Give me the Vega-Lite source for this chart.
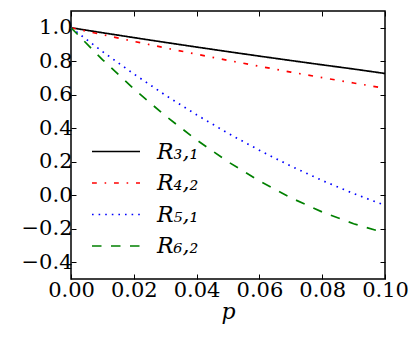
{
  "$schema": "https://vega.github.io/schema/vega-lite/v6.json",
  "width": 314,
  "height": 268,
  "autosize": {"type": "none"},
  "padding": {"left": 71, "top": 11, "right": 35, "bottom": 62},
  "config": {
    "view": {"stroke": "black", "strokeWidth": 1.5},
    "font": "DejaVu Serif",
    "axis": {"grid": false, "domain": false, "tickColor": "black", "tickWidth": 1, "tickSize": -5, "labelOverlap": false, "labelFlush": false, "labelBound": false}
  },
  "data": {"values": [
    {"p": 0, "series": "R₃,₁", "v": 1},
    {"p": 0.01, "series": "R₃,₁", "v": 0.9703},
    {"p": 0.02, "series": "R₃,₁", "v": 0.9412},
    {"p": 0.03, "series": "R₃,₁", "v": 0.9127},
    {"p": 0.04, "series": "R₃,₁", "v": 0.8847},
    {"p": 0.05, "series": "R₃,₁", "v": 0.8574},
    {"p": 0.06, "series": "R₃,₁", "v": 0.8306},
    {"p": 0.07, "series": "R₃,₁", "v": 0.8044},
    {"p": 0.08, "series": "R₃,₁", "v": 0.7787},
    {"p": 0.09, "series": "R₃,₁", "v": 0.7536},
    {"p": 0.1, "series": "R₃,₁", "v": 0.727},
    {"p": 0, "series": "R₄,₂", "v": 1},
    {"p": 0.01, "series": "R₄,₂", "v": 0.9588},
    {"p": 0.02, "series": "R₄,₂", "v": 0.9187},
    {"p": 0.03, "series": "R₄,₂", "v": 0.8798},
    {"p": 0.04, "series": "R₄,₂", "v": 0.842},
    {"p": 0.05, "series": "R₄,₂", "v": 0.8053},
    {"p": 0.06, "series": "R₄,₂", "v": 0.7698},
    {"p": 0.07, "series": "R₄,₂", "v": 0.7354},
    {"p": 0.08, "series": "R₄,₂", "v": 0.7021},
    {"p": 0.09, "series": "R₄,₂", "v": 0.67},
    {"p": 0.1, "series": "R₄,₂", "v": 0.639},
    {"p": 0, "series": "R₅,₁", "v": 1},
    {"p": 0.01, "series": "R₅,₁", "v": 0.8581},
    {"p": 0.02, "series": "R₅,₁", "v": 0.7242},
    {"p": 0.03, "series": "R₅,₁", "v": 0.5982},
    {"p": 0.04, "series": "R₅,₁", "v": 0.4802},
    {"p": 0.05, "series": "R₅,₁", "v": 0.3703},
    {"p": 0.06, "series": "R₅,₁", "v": 0.2682},
    {"p": 0.07, "series": "R₅,₁", "v": 0.1742},
    {"p": 0.08, "series": "R₅,₁", "v": 0.0882},
    {"p": 0.09, "series": "R₅,₁", "v": 0.0101},
    {"p": 0.1, "series": "R₅,₁", "v": -0.06},
    {"p": 0, "series": "R₆,₂", "v": 1},
    {"p": 0.01, "series": "R₆,₂", "v": 0.81},
    {"p": 0.02, "series": "R₆,₂", "v": 0.635},
    {"p": 0.03, "series": "R₆,₂", "v": 0.475},
    {"p": 0.04, "series": "R₆,₂", "v": 0.33},
    {"p": 0.05, "series": "R₆,₂", "v": 0.2},
    {"p": 0.06, "series": "R₆,₂", "v": 0.085},
    {"p": 0.07, "series": "R₆,₂", "v": -0.015},
    {"p": 0.08, "series": "R₆,₂", "v": -0.1},
    {"p": 0.09, "series": "R₆,₂", "v": -0.17},
    {"p": 0.1, "series": "R₆,₂", "v": -0.225}
  ]},
  "layer": [
    {
      "mark": {"type": "line", "strokeWidth": 1.7, "strokeCap": "butt"},
      "encoding": {
        "x": {"field": "p", "type": "quantitative", "scale": {"domain": [0, 0.1], "nice": false, "zero": false},
              "axis": {"values": [0, 0.02, 0.04, 0.06, 0.08, 0.1], "format": ".2f", "labelFont": "DejaVu Serif", "labelFontSize": 21, "labelColor": "black", "labelPadding": 5,
                       "title": "p", "titleFont": "DejaVu Serif", "titleFontStyle": "italic", "titleFontWeight": "normal", "titleFontSize": 22, "titleColor": "black", "titlePadding": 1}},
        "y": {"field": "v", "type": "quantitative", "scale": {"domain": [-0.5, 1.1], "nice": false, "zero": false},
              "axis": {"values": [-0.4, -0.2, 0, 0.2, 0.4, 0.6, 0.8, 1.0], "format": ".1f", "title": null, "labelFont": "DejaVu Serif", "labelFontSize": 21, "labelColor": "black", "labelPadding": 4}},
        "color": {"field": "series", "type": "nominal",
                  "scale": {"domain": ["R₃,₁", "R₄,₂", "R₅,₁", "R₆,₂"], "range": ["#000000", "#ff0000", "#0000ff", "#008000"]},
                  "legend": {"title": null, "orient": "none", "legendX": 20, "legendY": 130, "symbolType": "stroke", "symbolSize": 2304, "symbolStrokeWidth": 1.7, "clipHeight": 21, "rowPadding": 8.5, "labelFont": "DejaVu Serif", "labelFontSize": 22, "labelFontStyle": "italic", "labelOffset": 16, "labelColor": "black", "padding": 0}},
        "strokeDash": {"field": "series", "type": "nominal",
                  "scale": {"domain": ["R₃,₁", "R₄,₂", "R₅,₁", "R₆,₂"], "range": [[1, 0], [4.8, 7.8, 1.6, 7.8], [1.6, 5], [9.5, 9.5]]},
                  "legend": {"title": null, "orient": "none", "legendX": 20, "legendY": 130, "symbolType": "stroke", "symbolSize": 2304, "symbolStrokeWidth": 1.7, "clipHeight": 21, "rowPadding": 8.5, "labelFont": "DejaVu Serif", "labelFontSize": 22, "labelFontStyle": "italic", "labelOffset": 16, "labelColor": "black", "padding": 0}}
      }
    },
    {
      "mark": {"type": "line", "opacity": 0},
      "encoding": {
        "x": {"field": "p", "type": "quantitative", "scale": {"domain": [0, 0.1], "nice": false, "zero": false},
              "axis": {"orient": "top", "values": [0, 0.02, 0.04, 0.06, 0.08, 0.1], "labels": false, "title": null}},
        "y": {"field": "v", "type": "quantitative", "scale": {"domain": [-0.5, 1.1], "nice": false, "zero": false},
              "axis": {"orient": "right", "values": [-0.4, -0.2, 0, 0.2, 0.4, 0.6, 0.8, 1.0], "labels": false, "title": null}},
        "detail": {"field": "series", "type": "nominal"}
      }
    }
  ],
  "resolve": {"axis": {"x": "independent", "y": "independent"}}
}
